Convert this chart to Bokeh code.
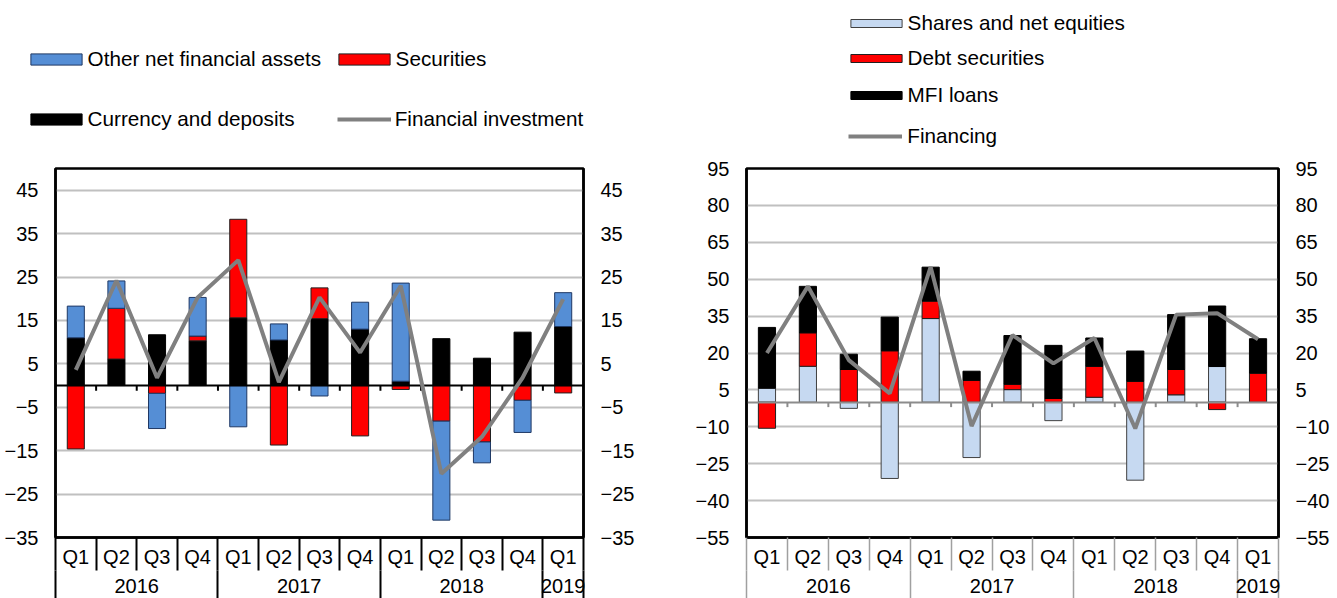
import numpy as np
from bokeh.plotting import figure
from bokeh.models import Range1d, LinearAxis, FixedTicker, Legend, LegendItem, Grid
from bokeh.layouts import row, column
from bokeh.embed import file_html
from bokeh.resources import INLINE

# ---------------- data ----------------
quarters = ["Q1", "Q2", "Q3", "Q4", "Q1", "Q2", "Q3", "Q4", "Q1", "Q2", "Q3", "Q4", "Q1"]
years = ["2016"] * 4 + ["2017"] * 4 + ["2018"] * 4 + ["2019"]

# left panel: financial investment
currency_deposits = [11.0, 6.1, 11.7, 10.3, 15.6, 10.5, 15.4, 13.0, 1.0, 10.8, 6.3, 12.3, 13.6]
securities = [-14.6, 11.7, -1.8, 1.1, 22.7, -13.7, 7.1, -11.6, -0.9, -8.2, -13.0, -3.4, -1.7]
other_net_fin_assets = [7.3, 6.3, -8.1, 8.9, -9.5, 3.7, -2.4, 6.2, 22.6, -22.8, -4.8, -7.4, 7.8]
financial_investment = [3.6, 24.2, 1.8, 20.3, 28.9, 0.8, 20.3, 7.6, 23.0, -20.3, -11.8, 1.8, 19.9]
left_yticks = [-35, -25, -15, -5, 5, 15, 25, 35, 45]

# right panel: financing
shares_equities = [5.7, 14.6, -2.5, -31.0, 34.0, -22.5, 5.1, -7.5, 2.0, -31.7, 3.0, 14.5, 0.0]
debt_securities = [-10.6, 13.6, 13.3, 20.9, 7.1, 8.9, 2.2, 1.5, 12.6, 8.5, 10.3, -3.0, 11.8]
mfi_loans = [24.7, 18.9, 6.2, 13.7, 13.8, 3.7, 19.8, 21.6, 11.5, 12.3, 22.3, 24.6, 14.0]
financing = [20.0, 47.1, 17.1, 3.6, 55.0, -9.7, 27.3, 15.8, 26.1, -10.7, 35.6, 36.2, 25.6]
right_yticks = [-55, -40, -25, -10, 5, 20, 35, 50, 65, 80, 95]

FONT = "Liberation Sans"
FS = "20px"
LEG_FS = "20.7px"
BLUE = "#558ED5"
LIGHTBLUE = "#C6D9F1"
RED = "#FF0000"
BLACK = "#000000"
GREY_LINE = "#808080"
ENTRY_H = 24
LEG_H = 150
TOTAL_W = 1336
HALF_W = 668

n = len(quarters)
xc = np.arange(n) + 0.5
bounds = np.arange(n + 1)

groups = []
for i, yv in enumerate(years):
    if groups and groups[-1][0] == yv:
        groups[-1][2] = i + 1
    else:
        groups.append([yv, i, i + 1])
year_centers = [(a + b) / 2 for _, a, b in groups]
year_labels = [g for g, _, _ in groups]
year_bounds = sorted(set([a for _, a, _ in groups] + [b for _, _, b in groups]))


def stack(series):
    pos = np.zeros(n)
    neg = np.zeros(n)
    out = []
    for s in series:
        v = np.asarray(s, dtype=float)
        bottom = np.where(v >= 0, pos, neg)
        top = bottom + v
        pos = np.where(v >= 0, top, pos)
        neg = np.where(v < 0, top, neg)
        out.append((bottom, top))
    return out


def chart(width, height, mb, yr, yticks, sep_color, sep_width, zero_color, zero_tick,
          series, colors, outlines, line_vals):
    left, right, top, bottom = mb
    p = figure(width=width, height=height, x_range=Range1d(0, n), y_range=Range1d(*yr),
               x_axis_type=None, y_axis_type=None, output_backend="svg",
               toolbar_location=None, min_border_left=left, min_border_right=right,
               min_border_top=top, min_border_bottom=bottom)
    p.outline_line_color = "black"
    p.outline_line_width = 2.5
    p.background_fill_color = "white"
    p.border_fill_color = "white"

    p.add_layout(Grid(dimension=1, ticker=FixedTicker(ticks=yticks),
                      grid_line_color="#C0C0C0", grid_line_width=2))

    for side in ("left", "right"):
        ax = LinearAxis(ticker=FixedTicker(ticks=yticks), major_tick_out=0, major_tick_in=0,
                        minor_tick_out=0, minor_tick_in=0, axis_line_color="black",
                        axis_line_width=2.5, major_label_standoff=17,
                        major_label_text_font=FONT, major_label_text_font_size=FS,
                        major_label_text_color="black")
        p.add_layout(ax, side)

    q_sep = 33
    qaxis = LinearAxis(ticker=FixedTicker(ticks=list(xc), minor_ticks=list(bounds)),
                       major_label_overrides={float(c): q for c, q in zip(xc, quarters)},
                       major_tick_out=0, major_tick_in=0, minor_tick_in=0, minor_tick_out=q_sep,
                       minor_tick_line_color=sep_color, minor_tick_line_width=sep_width,
                       axis_line_color="black", axis_line_width=2.5,
                       major_label_standoff=8 - q_sep,
                       major_label_text_font=FONT, major_label_text_font_size=FS,
                       major_label_text_color="black")
    p.add_layout(qaxis, "below")
    y_sep = 45
    yaxis = LinearAxis(ticker=FixedTicker(ticks=year_centers, minor_ticks=year_bounds),
                       major_label_overrides={float(c): y for c, y in zip(year_centers, year_labels)},
                       major_tick_out=0, major_tick_in=0, minor_tick_in=0, minor_tick_out=y_sep,
                       minor_tick_line_color=sep_color, minor_tick_line_width=sep_width,
                       axis_line_color=None, major_label_standoff=8 - y_sep,
                       major_label_text_font=FONT, major_label_text_font_size=FS,
                       major_label_text_color="black")
    p.add_layout(yaxis, "below")

    for (b, t), c, oc in zip(stack(series), colors, outlines):
        p.vbar(x=xc, width=0.42, bottom=b, top=t, fill_color=c, line_color=oc, line_width=1)

    p.hspan(y=[0], line_color=zero_color, line_width=2)
    p.segment(x0=bounds[1:-1], x1=bounds[1:-1], y0=0, y1=-zero_tick,
              line_color=zero_color, line_width=2)
    p.line(xc, line_vals, line_color=GREY_LINE, line_width=4)
    return p


# ---------------- legend strip (key for both panels) ----------------
lf = figure(width=TOTAL_W, height=LEG_H, x_range=Range1d(0, TOTAL_W), y_range=Range1d(0, LEG_H),
            x_axis_type=None, y_axis_type=None, output_backend="svg", toolbar_location=None,
            min_border=0, min_border_left=0, min_border_right=0, min_border_top=0,
            min_border_bottom=0, outline_line_color=None)
lf.background_fill_color = "white"
lf.border_fill_color = "white"


def key(kind, values, fill, outline, label, gx, cy, gw, gh, so):
    if kind == "bar":
        r = lf.vbar(x=xc, top=values, width=0.42, fill_color=fill, line_color=outline,
                    line_width=1, visible=False)
    else:
        r = lf.line(xc, values, line_color=fill, line_width=4, visible=False)
    vy = LEG_H - (cy + ENTRY_H / 2)
    lf.add_layout(Legend(items=[LegendItem(label=label, renderers=[r])], location=(gx, vy),
                         glyph_width=gw, glyph_height=gh, label_standoff=so, padding=0,
                         margin=0, spacing=0, border_line_color=None, background_fill_alpha=0,
                         inactive_fill_alpha=0, label_text_font=FONT, label_text_font_size=LEG_FS,
                         label_text_color="black", label_height=ENTRY_H))


# (kind, data, fill, outline, label, glyph-box left x, centre y, glyph w, glyph h, standoff)
key("bar", other_net_fin_assets, BLUE, "#1F3864", "Other net financial assets", 23.6, 58.7, 64, 14, 0)
key("bar", securities, RED, "#202020", "Securities", 331.6, 58.7, 64, 14, 0)
key("bar", currency_deposits, BLACK, "black", "Currency and deposits", 23.6, 118.8, 64, 14, 0)
key("line", financial_investment, GREY_LINE, None, "Financial investment", 336.7, 118.8, 54, 14, 4)
key("bar", shares_equities, LIGHTBLUE, "#404040", "Shares and net equities", 843.6, 22.5, 64, 10, 0)
key("bar", debt_securities, RED, "#202020", "Debt securities", 843.6, 58, 64, 10, 0)
key("bar", mfi_loans, BLACK, "black", "MFI loans", 843.6, 95, 64, 10, 0)
key("line", financing, GREY_LINE, None, "Financing", 848.3, 135.5, 54, 10, 5)

c1 = chart(HALF_W, 598 - LEG_H, (55, 85, 17, 60), (-35, 50), left_yticks, "black", 2, "black", 1.2,
           [currency_deposits, securities, other_net_fin_assets], [BLACK, RED, BLUE],
           ["black", "#202020", "#1F3864"], financial_investment)
c2 = chart(HALF_W, 598 - LEG_H, (78, 58, 18, 61), (-55, 95), right_yticks, "#A0A0A0", 1.5,
           "#8C8C8C", 2.0,
           [shares_equities, debt_securities, mfi_loans], [LIGHTBLUE, RED, BLACK],
           ["#404040", "#202020", "black"], financing)

layout = column(lf, row(c1, c2))
open("out.html", "w").write(file_html(layout, INLINE))
